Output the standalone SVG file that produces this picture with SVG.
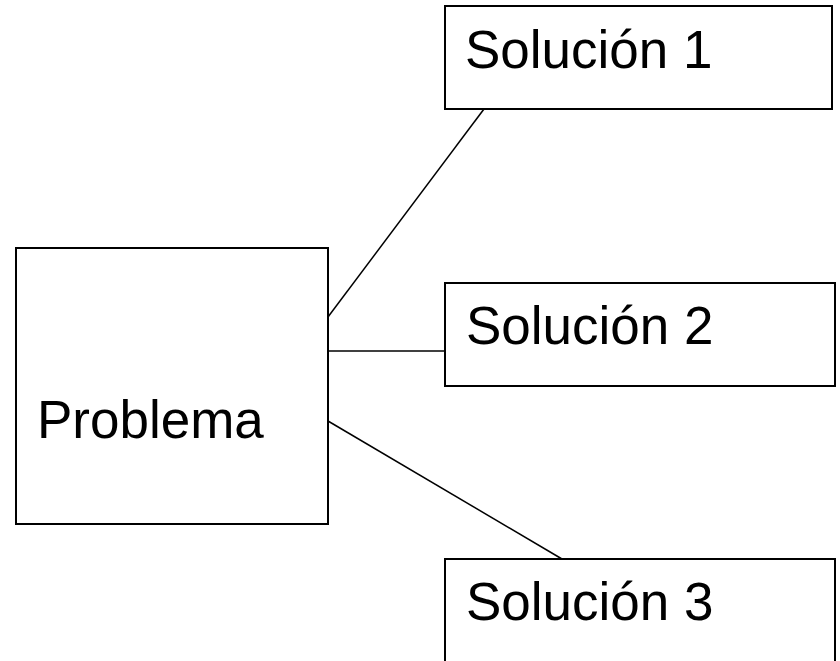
<svg xmlns="http://www.w3.org/2000/svg" width="840" height="661" viewBox="0 0 840 661">
<style>
.box{fill:#fff;stroke:#000;stroke-width:2}
.lbl{font-family:"Liberation Sans",Arial,sans-serif;font-size:53px;fill:#000}
.conn line{stroke:#000;stroke-width:1.5}
</style>
<rect width="840" height="661" fill="#fff"/>
<g id="connectors" class="conn">
<line x1="328" y1="317" x2="484" y2="109"/>
<line x1="328" y1="351" x2="445" y2="351"/>
<line x1="328" y1="421" x2="562" y2="559"/>
</g>
<g id="problema"><rect class="box" x="16" y="248" width="312" height="276"/><text class="lbl" x="37" y="438">Problema</text></g>
<g id="solucion1"><rect class="box" x="445" y="6" width="387" height="103"/><text class="lbl" x="465" y="68">Solución 1</text></g>
<g id="solucion2"><rect class="box" x="445" y="283" width="390" height="103"/><text class="lbl" x="466" y="344">Solución 2</text></g>
<g id="solucion3"><rect class="box" x="445" y="559" width="390" height="120"/><text class="lbl" x="466" y="620">Solución 3</text></g>
</svg>
